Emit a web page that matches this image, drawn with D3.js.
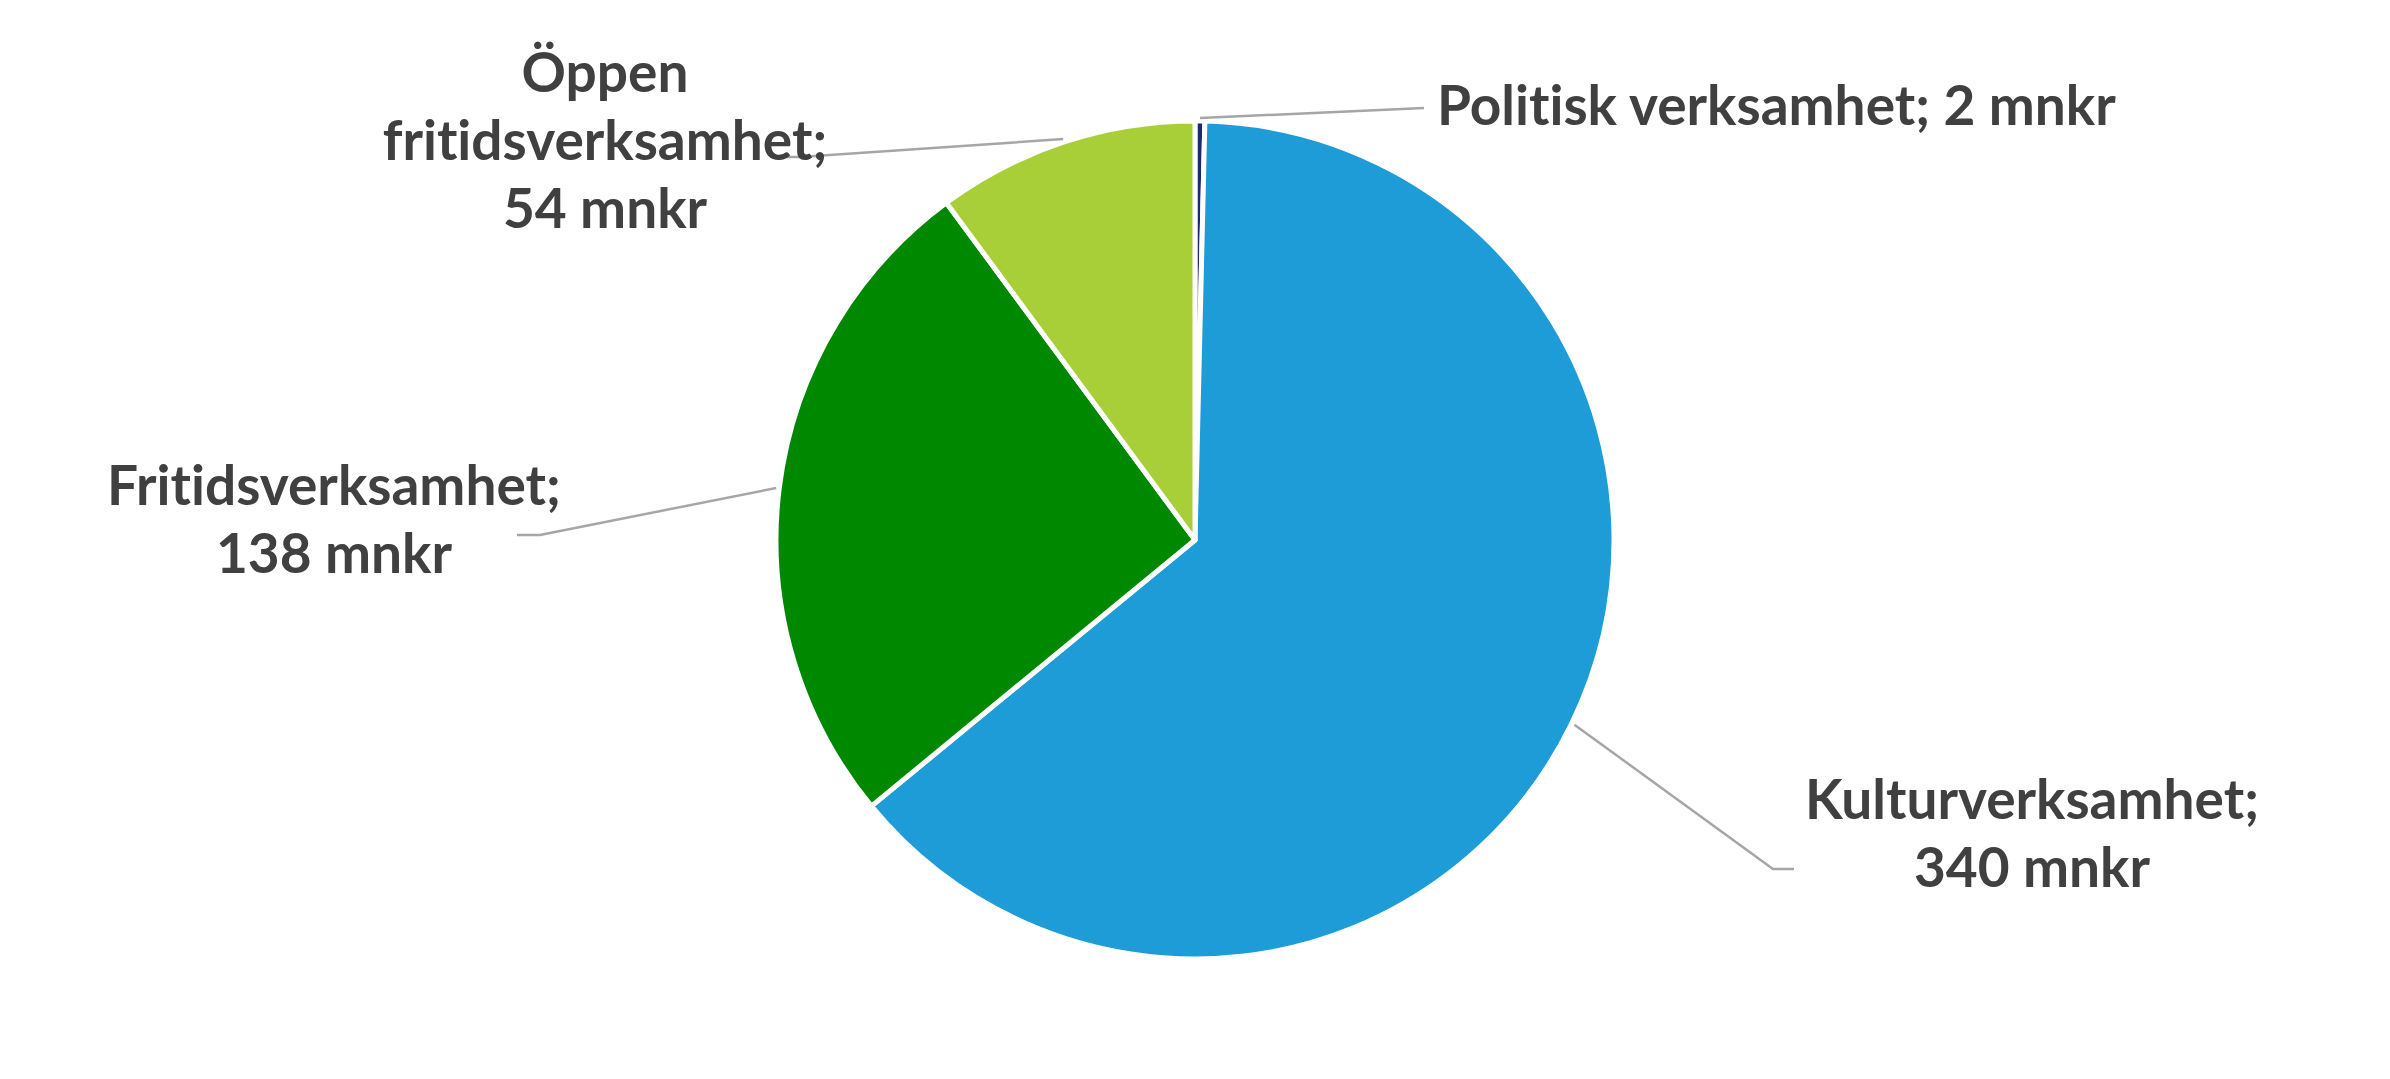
<!DOCTYPE html>
<html>
<head>
<meta charset="utf-8">
<script src="https://cdn.jsdelivr.net/npm/d3@7"></script>
<style>
  html, body { margin: 0; padding: 0; background: #ffffff; }
  svg { display: block; }
  text { font-variant-ligatures: none; font-feature-settings: "liga" 0, "clig" 0; }
</style>
</head>
<body>
<svg id="chart" width="2390" height="1079"></svg>
<script>
// ---- data ----
const categories = ["Politisk verksamhet", "Kulturverksamhet", "Fritidsverksamhet", "Öppen fritidsverksamhet"];
const values = [2, 340, 138, 54];
const unit = "mnkr";
const colors = ["#1B2A6B", "#1E9CD8", "#008800", "#A8CF38"];

// ---- layout ----
const W = 2390, H = 1079;
const cx = 1195, cy = 540, R = 419;
const fontFamily = "Lato, 'Open Sans', sans-serif";
const fontSize = 55;
const lineH = 68;
const labelLayout = [
  { anchor: "start",  x: 1437, y: 105, lines: 1, elbow: [1424, 108], stub: [1424, 108] },
  { anchor: "middle", x: 2032, y: 799, lines: 2, elbow: [1773, 869], stub: [1794, 869] },
  { anchor: "middle", x: 334,  y: 485, lines: 2, elbow: [540, 535],  stub: [517, 535] },
  { anchor: "middle", x: 605,  y: 72,  lines: 3, elbow: [800, 157],  stub: [782, 157] }
];

const svg = d3.select("#chart");
const g = svg.append("g").attr("transform", `translate(${cx},${cy})`);

const data = categories.map((c, i) => ({ name: c, value: values[i], color: colors[i], i }));
const pie = d3.pie().sort(null).value(d => d.value).startAngle(0).endAngle(2 * Math.PI);
const arcs = pie(data);
const arc = d3.arc().innerRadius(0).outerRadius(R);

g.selectAll("path.slice")
  .data(arcs)
  .join("path")
  .attr("class", "slice")
  .attr("d", arc)
  .attr("fill", d => d.data.color)
  .attr("stroke", "#ffffff")
  .attr("stroke-width", 5)
  .attr("stroke-linejoin", "round");

svg.selectAll("polyline.leader")
  .data(arcs)
  .join("polyline")
  .attr("class", "leader")
  .attr("fill", "none")
  .attr("stroke", "#A6A6A6")
  .attr("stroke-width", 2.5)
  .attr("points", d => {
    const L = labelLayout[d.data.i];
    const a = (d.startAngle + d.endAngle) / 2;
    const p = [cx + (R + 3) * Math.sin(a), cy - (R + 3) * Math.cos(a)];
    return [p, L.elbow, L.stub].map(q => q.join(",")).join(" ");
  });

function labelLines(d) {
  const L = labelLayout[d.i];
  const full = `${d.name}; ${d.value} ${unit}`;
  if (L.lines === 1) return [full];
  const words = d.name.split(" ");
  if (L.lines === 3) return [...words.slice(0, -1), words[words.length - 1] + ";", `${d.value} ${unit}`];
  return [d.name + ";", `${d.value} ${unit}`];
}

const labels = svg.selectAll("text.lbl")
  .data(data)
  .join("text")
  .attr("class", "lbl")
  .attr("text-anchor", d => labelLayout[d.i].anchor)
  .attr("font-family", fontFamily)
  .attr("font-weight", 700)
  .attr("font-size", fontSize)
  .attr("fill", "#404040");

labels.each(function(d) {
  const L = labelLayout[d.i];
  d3.select(this).selectAll("tspan")
    .data(labelLines(d))
    .join("tspan")
    .attr("x", L.x)
    .attr("y", (t, k) => L.y + k * lineH)
    .attr("dy", "0.36em")
    .text(t => t);
});
</script>
</body>
</html>
